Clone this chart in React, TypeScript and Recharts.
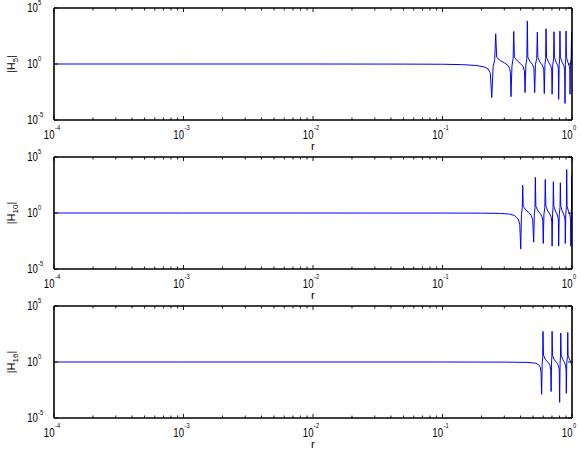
import { LineChart, Line, XAxis, YAxis } from "recharts";

const FONT = "'Liberation Sans', Arial, Helvetica, sans-serif";
const WIDTH = 581;
const PANEL_STEP = 149;
// extra room above each panel so the "10^5" exponent is not clipped by the svg
const HEADROOM = 6;
const PANEL_H = 156 + HEADROOM;
// each axis takes 1px of its own, the rest is margin
const AXIS_SIZE = 1;
const MARGIN = { top: 7 + HEADROOM, right: 8, bottom: 35, left: 53 };
const PLOT_LEFT = MARGIN.left + AXIS_SIZE;
const PLOT_TOP = MARGIN.top + AXIS_SIZE;
const PLOT_W = WIDTH - PLOT_LEFT - MARGIN.right - AXIS_SIZE;
const PLOT_H = PANEL_H - PLOT_TOP - MARGIN.bottom - AXIS_SIZE;

// axis ticks (log10 decades, MATLAB-style minor ticks on x)
const X_MAJOR = [1e-4, 1e-3, 1e-2, 1e-1, 1];
const X_EXP = ["-4", "-3", "-2", "-1", "0"];
const MINOR_STEPS = [2, 3, 4, 5, 6, 7, 8, 9];
const Y_MAJOR = [1e-5, 1, 1e5];
const Y_EXP = ["-5", "0", "5"];

const X_TICKS = [
  ...X_MAJOR,
  ...X_MAJOR.slice(0, -1).flatMap((d) => MINOR_STEPS.map((s) => s * d)),
].sort((a, b) => a - b);

// |H_5(r)|
const R_5 = [
  0.0001, 0.001, 0.01, 0.05, 0.1, 0.14, 0.18, 0.21, 0.226, 0.234,
  0.24, 0.246, 0.253, 0.2576, 0.262, 0.28, 0.3, 0.318, 0.33, 0.335,
  0.338, 0.344, 0.351, 0.355, 0.359, 0.38, 0.4, 0.42, 0.43,
  0.434, 0.44, 0.448, 0.452, 0.456, 0.475, 0.495, 0.508,
  0.515, 0.522, 0.534, 0.54, 0.545, 0.565, 0.59, 0.605,
  0.611, 0.618, 0.626, 0.63, 0.636, 0.66, 0.685, 0.697,
  0.702, 0.71, 0.721, 0.726, 0.732, 0.755, 0.778, 0.785,
  0.789, 0.796, 0.803, 0.807, 0.813, 0.84, 0.866, 0.878,
  0.883, 0.889, 0.895, 0.899, 0.906, 0.93, 0.955, 0.962,
  0.966, 0.972, 0.985, 0.992, 0.997, 1,
];
const MAG_5 = [
  1, 1, 1, 0.98, 0.95, 0.88, 0.75, 0.55, 0.35, 0.15,
  0.001, 0.6, 2.5, 500, 4, 2, 1.3, 0.8, 0.4, 0.15,
  0.0012, 0.7, 3, 800, 4, 1.8, 1.1, 0.6, 0.2,
  0.0028, 0.8, 3, 7000, 4, 1.6, 0.9, 0.4,
  0.0028, 0.9, 3, 700, 4, 1.5, 0.8, 0.35,
  0.0023, 0.9, 3, 1400, 4, 1.4, 0.7, 0.3,
  0.002, 0.9, 3, 760, 4, 1.4, 0.7, 0.3,
  0.0007, 0.9, 3, 870, 4, 1.4, 0.7, 0.3,
  0.0003, 0.9, 3, 870, 4, 1.4, 0.6, 0.3,
  0.002, 0.9, 3, 760, 3, 1.2,
];

// |H_10(r)|
const R_10 = [
  0.0001, 0.001, 0.01, 0.1, 0.2, 0.28, 0.33, 0.36, 0.383, 0.395,
  0.402, 0.407, 0.413, 0.416, 0.42, 0.44, 0.465, 0.485, 0.497,
  0.506, 0.512, 0.518, 0.521, 0.526, 0.545, 0.568, 0.585, 0.595,
  0.6, 0.607, 0.617, 0.622, 0.628, 0.65, 0.675, 0.692, 0.698,
  0.702, 0.708, 0.714, 0.718, 0.724, 0.745, 0.765, 0.782, 0.786,
  0.789, 0.797, 0.808, 0.813, 0.819, 0.84, 0.862, 0.88, 0.885,
  0.888, 0.895, 0.905, 0.91, 0.916, 0.94, 0.962, 0.975,
  0.98, 0.986, 0.992, 0.995, 0.998, 1,
];
const MAG_10 = [
  1, 1, 1, 0.99, 0.97, 0.92, 0.8, 0.6, 0.3, 0.1,
  0.0006, 0.7, 3, 310, 4, 1.8, 1.1, 0.6, 0.25,
  0.0025, 0.8, 3, 1500, 4, 1.6, 0.9, 0.5, 0.2,
  0.0019, 0.8, 3, 980, 4, 1.5, 0.8, 0.4, 0.15,
  0.0011, 0.8, 3, 620, 4, 1.5, 0.8, 0.35, 0.15,
  0.0011, 0.8, 3, 500, 4, 1.5, 0.8, 0.35, 0.15,
  0.0019, 0.8, 3, 7600, 4, 1.4, 0.7, 0.3,
  0.0011, 0.8, 3, 2400, 3, 1.5,
];

// |H_16(r)|
const R_16 = [
  0.0001, 0.001, 0.01, 0.1, 0.3, 0.45, 0.52, 0.55, 0.568, 0.577,
  0.583, 0.588, 0.594, 0.597, 0.602, 0.625, 0.655, 0.675, 0.685,
  0.69, 0.695, 0.699, 0.702, 0.707, 0.73, 0.76, 0.785, 0.797,
  0.803, 0.809, 0.815, 0.819, 0.825, 0.85, 0.875, 0.893, 0.9,
  0.904, 0.911, 0.922, 0.927, 0.933, 0.955, 0.975, 0.99, 1,
];
const MAG_16 = [
  1, 1, 1, 1, 0.98, 0.92, 0.8, 0.6, 0.35, 0.12,
  0.0013, 0.7, 3, 540, 4, 1.6, 0.9, 0.5, 0.2,
  0.0023, 0.8, 3, 540, 4, 1.6, 0.9, 0.5, 0.2,
  0.00025, 0.8, 3, 380, 4, 1.6, 0.9, 0.45, 0.2,
  0.0016, 0.8, 3, 440, 4, 1.8, 1.1, 0.7, 0.5,
];

const PANELS = [
  { order: "5", r: R_5, mag: MAG_5 },
  { order: "10", r: R_10, mag: MAG_10 },
  { order: "16", r: R_16, mag: MAG_16 },
];

const majorIndex = (list: number[], v: number) =>
  list.findIndex((d) => Math.abs(v / d - 1) < 1e-6);

// "10" with a superscript exponent, squeezed a little horizontally
function Pow10({ bx, by, ex, ey, exp }: { bx: number; by: number; ex: number; ey: number; exp: string }) {
  return (
    <g fontFamily={FONT} fill="#000">
      <text transform={`translate(${bx},${by}) scale(0.8,1)`} fontSize={12} textAnchor="end">
        10
      </text>
      <text transform={`translate(${ex},${ey}) scale(0.8,1)`} fontSize={7.2} textAnchor="start">
        {exp}
      </text>
    </g>
  );
}

function BottomTick(props: any) {
  const { x, y, payload } = props;
  const i = majorIndex(X_MAJOR, payload.value);
  return (
    <g>
      <line x1={x} x2={x} y1={y} y2={y - (i >= 0 ? 4 : 2.5)} stroke="#000" strokeWidth={0.9} />
      {i >= 0 && <Pow10 bx={x + 0.5} by={y + 19} ex={x + 1} ey={y + 10} exp={X_EXP[i]} />}
    </g>
  );
}

function TopTick(props: any) {
  const { x, y, payload } = props;
  const major = majorIndex(X_MAJOR, payload.value) >= 0;
  return <line x1={x} x2={x} y1={y} y2={y + (major ? 4 : 2.5)} stroke="#000" strokeWidth={0.9} />;
}

function LeftTick(props: any) {
  const { x, y, payload } = props;
  const i = majorIndex(Y_MAJOR, payload.value);
  return (
    <g>
      <line x1={x} x2={x + 4} y1={y} y2={y} stroke="#000" strokeWidth={0.9} />
      {i >= 0 && <Pow10 bx={x - 16.1} by={y + 4.3} ex={x - 16} ey={y - 2.7} exp={Y_EXP[i]} />}
    </g>
  );
}

function RightTick(props: any) {
  const { x, y } = props;
  return <line x1={x} x2={x - 4} y1={y} y2={y} stroke="#000" strokeWidth={0.9} />;
}

const AXIS_LINE = { stroke: "#000", strokeWidth: 1.6 };

function XTitle() {
  return (
    <text
      x={PLOT_LEFT + PLOT_W / 2}
      y={PLOT_TOP + PLOT_H + 30}
      textAnchor="middle"
      fontFamily={FONT}
      fontSize={11.5}
      fill="#000"
    >
      r
    </text>
  );
}

function YTitle({ order }: { order: string }) {
  return (
    <text
      transform={`translate(15.3,${PLOT_TOP + PLOT_H / 2}) rotate(-90)`}
      textAnchor="middle"
      fontFamily={FONT}
      fontSize={11}
      fill="#000"
    >
      |H
      <tspan fontSize={8} dy={3}>
        {order}
      </tspan>
      <tspan dy={-3}>|</tspan>
    </text>
  );
}

function Panel({ order, r, mag, top }: { order: string; r: number[]; mag: number[]; top: number }) {
  const rows = r.map((v, i) => ({ r: v, mag: mag[i] }));
  const xCommon = {
    dataKey: "r",
    type: "number" as const,
    scale: "log" as const,
    domain: [1e-4, 1],
    allowDataOverflow: true,
    ticks: X_TICKS,
    interval: 0 as const,
    height: AXIS_SIZE,
    tickSize: 0,
    tickMargin: 0,
    tickLine: false,
    axisLine: AXIS_LINE,
  };
  const yCommon = {
    dataKey: "mag",
    type: "number" as const,
    scale: "log" as const,
    domain: [1e-5, 1e5],
    allowDataOverflow: true,
    ticks: Y_MAJOR,
    interval: 0 as const,
    width: AXIS_SIZE,
    tickSize: 0,
    tickMargin: 0,
    tickLine: false,
    axisLine: AXIS_LINE,
  };
  return (
    <div style={{ position: "absolute", left: 0, top }}>
      <LineChart width={WIDTH} height={PANEL_H} data={rows} margin={MARGIN}>
        <XAxis {...xCommon} tick={(p: any) => <BottomTick {...p} />} label={<XTitle />} />
        <XAxis {...xCommon} xAxisId="top" orientation="top" tick={(p: any) => <TopTick {...p} />} />
        <YAxis {...yCommon} tick={(p: any) => <LeftTick {...p} />} label={<YTitle order={order} />} />
        <YAxis {...yCommon} yAxisId="right" orientation="right" tick={(p: any) => <RightTick {...p} />} />
        <Line
          dataKey="mag"
          type="linear"
          stroke="#0000ff"
          strokeWidth={1}
          dot={false}
          activeDot={false}
          isAnimationActive={false}
        />
      </LineChart>
    </div>
  );
}

export default function App() {
  return (
    <div
      style={{
        position: "absolute",
        left: 0,
        top: 0,
        width: WIDTH,
        height: 454,
        background: "#fff",
        overflow: "hidden",
      }}
    >
      {PANELS.map((p, i) => (
        <Panel key={p.order} order={p.order} r={p.r} mag={p.mag} top={i * PANEL_STEP - HEADROOM} />
      ))}
    </div>
  );
}
